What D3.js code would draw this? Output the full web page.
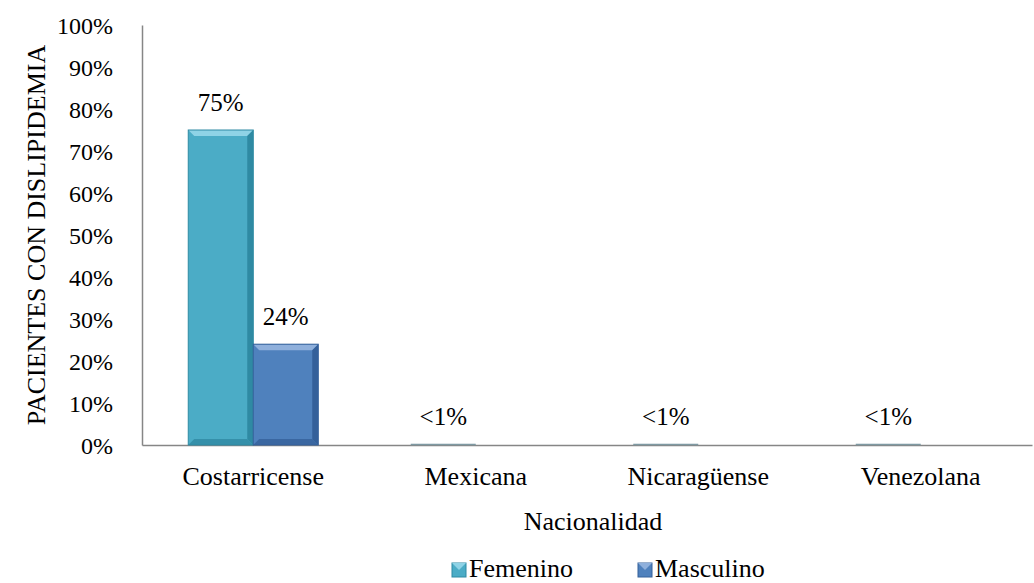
<!DOCTYPE html>
<html>
<head>
<meta charset="utf-8">
<script src="https://cdn.jsdelivr.net/npm/d3@7"></script>
<style>
  body { margin: 0; background: #fff; }
</style>
</head>
<body>
<svg width="1034" height="583"></svg>
<script>
// chart data
const categories = ["Costarricense", "Mexicana", "Nicaragüense", "Venezolana"];
const series = ["Femenino", "Masculino"];
const femenino = [75, 0.3, 0.3, 0.3];
const masculino = [24, 0, 0, 0];
const femeninoLabels = ["75%", "<1%", "<1%", "<1%"];
const masculinoLabels = ["24%", "", "", ""];
const yTicks = [0, 10, 20, 30, 40, 50, 60, 70, 80, 90, 100];

const FONT = "'Liberation Serif', 'Times New Roman', serif";
const FS = 26;
const TICK_FS = 24;

const colors = { Femenino: "#4BACC6", Masculino: "#4F81BD" };
const dark = { Femenino: "#2f8aa3", Masculino: "#34609a" };
const light = { Femenino: "#8fd3e6", Masculino: "#8fb0dc" };

const svg = d3.select("svg");
const margin = { left: 142, right: 2, top: 25, bottom: 138 };
const W = 1034, H = 583;

const x = d3.scaleBand().domain(categories).range([margin.left, W - margin.right]);
const x1 = d3.scaleBand().domain(series).range([0, 130]);
const y = d3.scaleLinear().domain([0, 100]).range([H - margin.bottom, margin.top]);

// rows per bar
const rows = [];
categories.forEach((c, i) => {
  rows.push({ cat: c, s: "Femenino", v: femenino[i], label: femeninoLabels[i] });
  rows.push({ cat: c, s: "Masculino", v: masculino[i], label: masculinoLabels[i] });
});

// axes
const yAxis = svg.append("g")
  .attr("transform", `translate(${margin.left},0)`)
  .call(d3.axisLeft(y).tickValues(yTicks).tickSize(0).tickPadding(29).tickFormat(d => d + "%"));
yAxis.attr("font-family", FONT).attr("font-size", TICK_FS);
yAxis.select(".domain").attr("stroke", "#868686").attr("stroke-width", 1.5);
yAxis.selectAll("text").attr("dy", "0.35em").attr("fill", "#000");

const xAxis = svg.append("g")
  .attr("transform", `translate(0,${y(0)})`)
  .call(d3.axisBottom(x).tickSize(0));
xAxis.attr("font-family", FONT).attr("font-size", FS);
xAxis.select(".domain").attr("stroke", "#868686").attr("stroke-width", 1.5);
xAxis.selectAll("text").attr("y", 40).attr("dy", 0).attr("fill", "#000");

// bars with bevel
const bevel = 6;
const bars = svg.append("g").selectAll("g")
  .data(rows.filter(d => d.v > 0))
  .join("g")
  .attr("transform", d => `translate(${x(d.cat) + (x.bandwidth() - 130) / 2 + x1(d.s)},0)`);

bars.append("rect")
  .attr("x", 0)
  .attr("y", d => y(d.v))
  .attr("width", x1.bandwidth())
  .attr("height", d => Math.max(y(0) - y(d.v), 1.5))
  .attr("fill", d => y(0) - y(d.v) < 4 ? "#7f9aa3" : colors[d.s]);

const big = bars.filter(d => y(0) - y(d.v) > 20);
// top bevel
big.append("polygon")
  .attr("points", d => {
    const t = y(d.v), w = x1.bandwidth();
    return `0,${t} ${w},${t} ${w - bevel},${t + bevel} ${bevel},${t + bevel}`;
  })
  .attr("fill", d => light[d.s]);
// right bevel
big.append("polygon")
  .attr("points", d => {
    const t = y(d.v), b = y(0), w = x1.bandwidth();
    return `${w},${t} ${w - bevel},${t + bevel} ${w - bevel},${b - bevel} ${w},${b}`;
  })
  .attr("fill", d => dark[d.s]);
// bottom bevel
big.append("polygon")
  .attr("points", d => {
    const b = y(0), w = x1.bandwidth();
    return `0,${b} ${bevel},${b - bevel} ${w - bevel},${b - bevel} ${w},${b}`;
  })
  .attr("fill", d => dark[d.s]).attr("opacity", 0.8);
big.append("rect")
  .attr("x", 0).attr("y", d => y(d.v))
  .attr("width", x1.bandwidth()).attr("height", d => y(0) - y(d.v))
  .attr("fill", "none").attr("stroke", d => dark[d.s]).attr("stroke-width", 1);

const text = (sel) => sel.attr("font-family", FONT).attr("font-size", FS).attr("fill", "#000");

// value labels
svg.append("g").selectAll("text")
  .data(rows.filter(d => d.label))
  .join("text")
  .call(text)
  .attr("font-size", 25)
  .attr("x", d => x(d.cat) + (x.bandwidth() - 130) / 2 + x1(d.s) + x1.bandwidth() / 2)
  .attr("y", d => y(d.v) - 19)
  .attr("text-anchor", "middle")
  .text(d => d.label);

// axis titles
svg.append("text").call(text)
  .attr("x", 593)
  .attr("y", 530)
  .attr("text-anchor", "middle")
  .text("Nacionalidad");

svg.append("text").call(text)
  .attr("transform", "translate(45,235) rotate(-90)")
  .attr("text-anchor", "middle")
  .text("PACIENTES CON DISLIPIDEMIA");

// legend
const legendX = [452, 638];
const legend = svg.append("g").selectAll("g")
  .data(series)
  .join("g")
  .attr("transform", (d, i) => `translate(${legendX[i]},563)`);
legend.append("rect")
  .attr("width", 14).attr("height", 14)
  .attr("fill", d => colors[d])
  .attr("stroke", d => dark[d]);
legend.append("polygon")
  .attr("points", "0,0 14,0 7,7")
  .attr("fill", d => light[d]);
legend.append("text").call(text)
  .attr("x", 17).attr("y", 14)
  .text(d => d);
</script>
</body>
</html>
